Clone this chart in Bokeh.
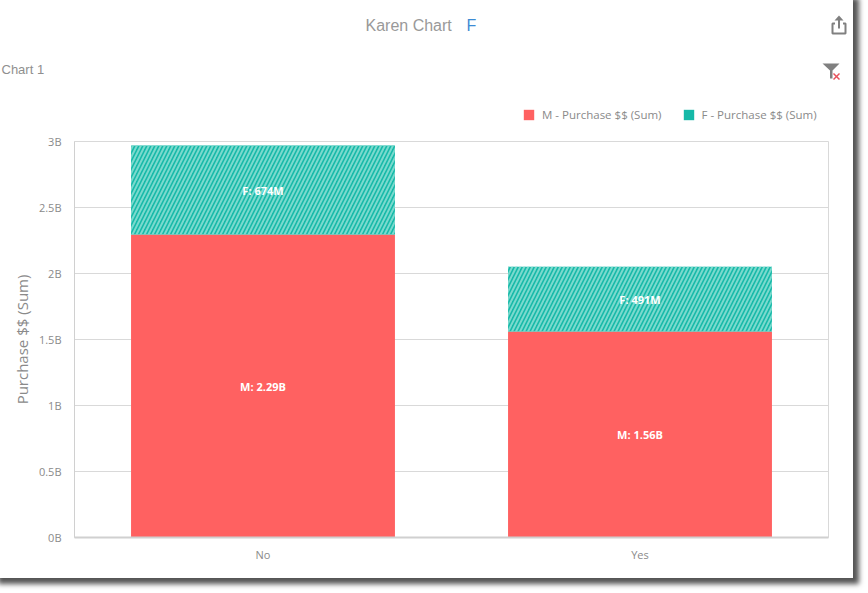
from bokeh.plotting import figure
from bokeh.layouts import column
from bokeh.embed import file_html
from bokeh.resources import INLINE
from bokeh.core.properties import value
from bokeh.models import ColumnDataSource, FixedTicker, Legend, LegendItem, Range1d, FactorRange

categories = ["No", "Yes"]
m_values = [2.295e9, 1.56e9]
f_values = [674e6, 491e6]
m_labels = ["M: 2.29B", "M: 1.56B"]
f_labels = ["F: 674M", "F: 491M"]
y_ticks = [0, 0.5e9, 1e9, 1.5e9, 2e9, 2.5e9, 3e9]
y_tick_labels = ["0B", "0.5B", "1B", "1.5B", "2B", "2.5B", "3B"]
legend_labels = ["M - Purchase $$ (Sum)", "F - Purchase $$ (Sum)"]

RED = "#FF6161"
TEAL = "#16B9A8"
GREY = "#8a8a8a"
OFF = 8                      # the canvases start 8px up and left of the window
PAGE_R, PAGE_B = 853, 578    # white sheet edges, window pixels
SPLIT = 125                  # header strip ends here
L, R, T, B = 74, 828, 141, 537

# ---------- header strip: title, note, icons, legend ----------
h = figure(width=PAGE_R + OFF, height=SPLIT + OFF, x_range=Range1d(-OFF, PAGE_R),
           y_range=Range1d(SPLIT, -OFF), x_axis_location=None, y_axis_location=None,
           output_backend="svg", toolbar_location=None, outline_line_color=None,
           min_border_left=0, min_border_right=0, min_border_top=0, min_border_bottom=0,
           frame_align=False)
h.grid.visible = False

def txt(x, y, s, size, color, font="Liberation Sans"):
    h.text(x=[x], y=[y], text=[s], text_font=value(font), text_font_size=size, text_color=color,
           text_baseline="middle", text_align="left")
txt(365, 25, "Karen Chart", "16px", "#999999")
txt(466, 25, "F", "16px", "#3D8BD4")
txt(1, 69, "Chart 1", "13px", "#8f8f8f")

ICON = "#808080"
h.line([834.5, 832, 832, 845, 845, 842.5], [23, 23, 33, 33, 23, 23], line_color=ICON, line_width=2)
h.patch([837.5, 839.5, 839.5, 837.5], [18, 18, 28, 28], fill_color=ICON, line_color=None)
h.patch([838.5, 843, 834], [15, 20, 20], fill_color=ICON, line_color=None)
h.patch([822, 839, 832, 832, 829.5, 829.5], [63, 63, 70, 78, 78, 70], fill_color=ICON, line_color=None)
h.line([833, 839], [73, 79], line_color="#E8505B", line_width=1.5)
h.line([839, 833], [73, 79], line_color="#E8505B", line_width=1.5)

r1 = h.vbar(x=[0], bottom=[-100], top=[-100], width=0, fill_color=RED, line_color=None)
r2 = h.vbar(x=[0], bottom=[-100], top=[-100], width=0, fill_color=TEAL, line_color=None)
legend = Legend(items=[LegendItem(label=legend_labels[0], renderers=[r1]),
                       LegendItem(label=legend_labels[1], renderers=[r2])],
                orientation="horizontal", location=(522 + OFF, SPLIT - 122),
                border_line_color=None, background_fill_alpha=0,
                glyph_width=13, glyph_height=13, label_text_font="Open Sans",
                label_text_font_size="11.5px", label_text_color=GREY,
                padding=0, margin=0, spacing=20, label_standoff=7)
h.add_layout(legend, "center")

# ---------- main chart ----------
p = figure(width=PAGE_R + OFF, height=PAGE_B - SPLIT,
           x_range=FactorRange(*categories, range_padding=0, factor_padding=0),
           y_range=Range1d(0, 3e9), output_backend="svg", toolbar_location=None,
           min_border_left=L + OFF, min_border_right=PAGE_R - R, min_border_top=T - SPLIT,
           min_border_bottom=PAGE_B - B, background_fill_color="white", border_fill_color="white",
           frame_align=False)

src = ColumnDataSource(dict(
    cat=categories, m=m_values, f=f_values,
    top=[a + b for a, b in zip(m_values, f_values)],
    base=[0, 0],
    my=[a / 2 for a in m_values],
    fy=[a + b / 2 for a, b in zip(m_values, f_values)],
    ml=m_labels, fl=f_labels,
))

p.vbar(x="cat", bottom="base", top="m", width=0.7, source=src, fill_color=RED, line_color=None)
p.vbar(x="cat", bottom="m", top="top", width=0.7, source=src, fill_color=TEAL, line_color=None,
       hatch_pattern="right_diagonal_line", hatch_color="#7ADACE", hatch_scale=8, hatch_weight=2)

for col, lab in (("my", "ml"), ("fy", "fl")):
    p.text(x="cat", y=col, text=lab, source=src, text_color="white", text_align="center",
           text_baseline="middle", text_font=value("Open Sans"), text_font_size="11px",
           text_font_style="bold")

p.xaxis.axis_line_color = "#d0d0d0"
p.xaxis.axis_line_width = 2
p.xaxis.major_tick_line_color = None
p.xaxis.minor_tick_line_color = None
p.xaxis.major_label_text_font = "Open Sans"
p.xaxis.major_label_text_font_size = "11px"
p.xaxis.major_label_text_color = GREY
p.xaxis.major_label_standoff = 3
p.xgrid.grid_line_color = None

p.yaxis.ticker = FixedTicker(ticks=y_ticks)
p.yaxis.major_label_overrides = dict(zip(y_ticks, y_tick_labels))
p.yaxis.axis_line_color = "#d0d0d0"
p.yaxis.major_tick_line_color = None
p.yaxis.minor_tick_line_color = None
p.yaxis.major_label_text_font = "Open Sans"
p.yaxis.major_label_text_font_size = "11px"
p.yaxis.major_label_text_color = GREY
p.yaxis.major_label_standoff = 7
p.yaxis.axis_label = "Purchase $$ (Sum)"
p.yaxis.axis_label_text_font = "Open Sans"
p.yaxis.axis_label_text_font_style = "normal"
p.yaxis.axis_label_text_font_size = "15px"
p.yaxis.axis_label_text_color = GREY
p.yaxis.axis_label_standoff = 4
p.ygrid.grid_line_color = "#d9d9d9"
p.ygrid.ticker = FixedTicker(ticks=y_ticks)
p.outline_line_color = "#d9d9d9"

page = column(h, p, spacing=0, margin=(-8, 0, 0, -8),
              styles={"box-shadow": "6px 6px 5px #555555"})

open("out.html", "w").write(file_html(page, INLINE))
